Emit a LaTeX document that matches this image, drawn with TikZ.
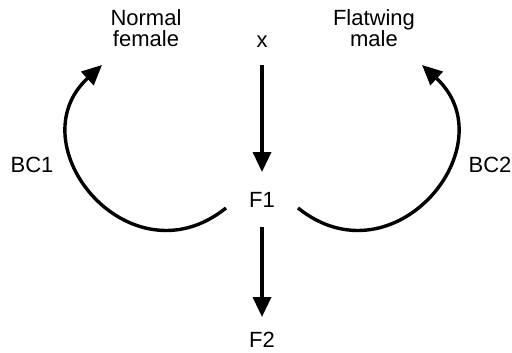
\documentclass[tikz,border=0pt]{standalone}
\usepackage{fontspec}
\setmainfont{Liberation Sans}
\usetikzlibrary{arrows.meta,positioning}

\begin{document}
\begin{tikzpicture}[
  x=0.5pt, y=-0.5pt,
  every node/.style={align=center, inner sep=0pt,
                     font=\fontsize{11}{10.5}\selectfont},
  arr/.style={-{Triangle[length=10pt,width=9pt]}, line width=1.7pt}
]
\useasboundingbox (0,0) rectangle (512,352);

\node (nf)    at (146,28)  {Normal\\ female};
\node (cross) at (262,42)  {x};
\node (fm)    at (374,28)  {Flatwing\\ male};
\node (f1)    at (262,200) {F1};
\node (f2)    at (262,340) {F2};
\node (bc1)   at (32,165)  {BC1};
\node (bc2)   at (490,165) {BC2};

\draw[arr] ([shift={(0,23)}]cross.center) -- ([shift={(0,-28)}]f1.center);
\draw[arr] ([shift={(0,27)}]f1.center) -- ([shift={(0,-23)}]f2.center);
\draw[arr] ([shift={(-36,8)}]f1.center)
  .. controls (130,285) and (15,145) .. ([shift={(-44,37)}]nf.center);
\draw[arr] ([shift={(36,8)}]f1.center)
  .. controls (394,285) and (509,145) .. ([shift={(48,37)}]fm.center);
\end{tikzpicture}
\end{document}
